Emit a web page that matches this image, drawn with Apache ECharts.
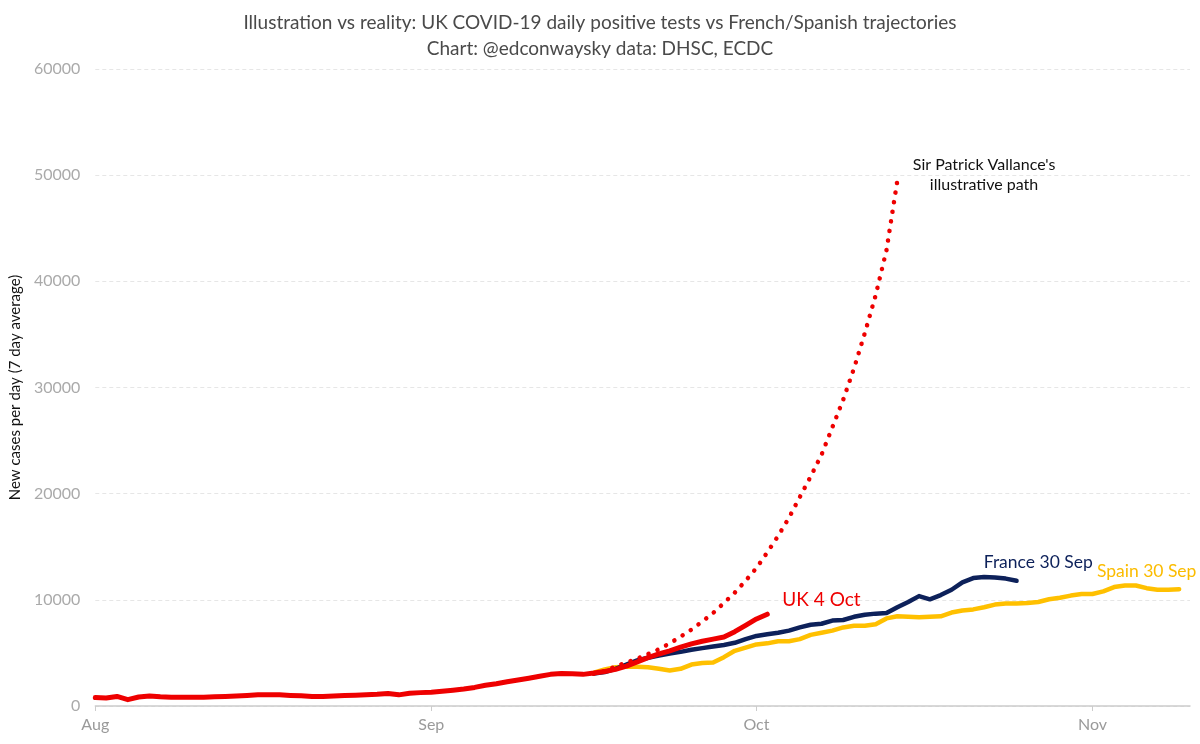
<!DOCTYPE html>
<html>
<head>
<meta charset="utf-8">
<script src="https://cdn.jsdelivr.net/npm/echarts@6/dist/echarts.min.js"></script>
<style>html,body{margin:0;padding:0;background:#fff}#c{width:1200px;height:744px}</style>
</head>
<body>
<div id="c"></div>
<script>
// ---- Data ----
var startDate = '2020-08-01';
var dayCount = 102; // 1 Aug .. 10 Nov
var yTicks = [0, 10000, 20000, 30000, 40000, 50000, 60000];
var monthLabels = {'08': 'Aug', '09': 'Sep', '10': 'Oct', '11': 'Nov'};

// UK 7-day average, from 1 Aug
var ukStart = 0;
var ukValues = [800, 750, 900, 600, 850, 950, 870, 820, 820, 820,
  830, 860, 900, 950, 1000, 1050, 1060, 1050, 1000, 960,
  900, 900, 950, 1000, 1020, 1060, 1100, 1180, 1050, 1200,
  1260, 1300, 1380, 1480, 1600, 1750, 1950, 2100, 2280, 2450,
  2620, 2800, 2980, 3070, 3040, 2980, 3100, 3250, 3450, 3750,
  4150, 4550, 4900, 5200, 5550, 5850, 6100, 6300, 6500, 7000,
  7600, 8200, 8650];

// France trajectory (aligned), from 16 Sep
var franceStart = 46;
var franceValues = [3050, 3200, 3500, 3900, 4300, 4550, 4750, 4950, 5100, 5300,
  5450, 5600, 5750, 5950, 6300, 6600, 6750, 6900, 7100, 7400,
  7650, 7750, 8050, 8100, 8400, 8600, 8700, 8750, 9300, 9800,
  10350, 10050, 10450, 10950, 11650, 12050, 12150, 12100, 12000, 11800];

// Spain trajectory (aligned), from 16 Sep
var spainStart = 46;
var spainValues = [3150, 3450, 3650, 3700, 3700, 3650, 3500, 3350, 3500, 3900,
  4050, 4100, 4600, 5200, 5500, 5800, 5900, 6100, 6100, 6300,
  6700, 6900, 7100, 7400, 7550, 7550, 7700, 8250, 8450, 8400,
  8350, 8400, 8450, 8800, 9000, 9100, 9300, 9550, 9650, 9650,
  9700, 9800, 10050, 10200, 10400, 10550, 10550, 10800, 11200, 11350,
  11350, 11100, 10950, 10950, 11000];

// Sir Patrick Vallance's illustrative path, from 16 Sep
var vallanceStart = 46;
var vallanceValues = [3050, 3300, 3730, 4080, 4450, 4900, 5340, 5900, 6530, 7200,
  7960, 8760, 9700, 10680, 11800, 13000, 14470, 16020, 17730, 19680,
  21610, 23660, 26240, 28840, 31800, 35130, 38700, 42950, 49500];

// Annotation anchors [day index, value]
var ukLabelAt = [67, 9950];
var franceLabelAt = [87, 13550];
var spainLabelAt = [97, 12700];
var vallanceLabelAt = [82, 50000];

// ---- Build ----
function pad(n){return (n<10?'0':'')+n;}
var dates = [];
(function(){
  var d = new Date(startDate + 'T00:00:00Z');
  for (var i = 0; i < dayCount; i++) {
    var t = new Date(d.getTime() + i*86400000);
    dates.push(t.getUTCFullYear() + '-' + pad(t.getUTCMonth()+1) + '-' + pad(t.getUTCDate()));
  }
})();
function place(start, vals){
  var arr = new Array(dayCount).fill(null);
  for (var i = 0; i < vals.length; i++) arr[start+i] = vals[i];
  return arr;
}
var isMonthStart = function(idx, val){ return val.slice(8) === '01'; };
var FONT = 'Lato, "Open Sans", sans-serif';

function note(at, text, color, size, extra){
  var lbl = Object.assign({show:true, position:'inside', formatter:text, color:color, fontSize:size, fontFamily:FONT}, extra||{});
  return {coord:[dates[at[0]], at[1]], symbol:'rect', symbolSize:1, itemStyle:{color:'rgba(0,0,0,0)'}, label:lbl};
}

var chart = echarts.init(document.getElementById('c'), null, {renderer:'canvas'});
chart.setOption({
  animation: false,
  backgroundColor: '#fff',
  title: {
    text: 'Illustration vs reality: UK COVID-19 daily positive tests vs French/Spanish trajectories\nChart: @edconwaysky data: DHSC, ECDC',
    left: 'center', top: 5,
    textStyle: {fontFamily: FONT, fontSize: 19, fontWeight: 'normal', color: '#4a4a4a', lineHeight: 26}
  },
  grid: {left: 93, right: 10, top: 69, bottom: 38, containLabel: false},
  xAxis: {
    type: 'category', data: dates, boundaryGap: false,
    axisLine: {lineStyle: {color: '#cccccc', width: 1.5}},
    axisTick: {show: true, interval: isMonthStart, length: 5, lineStyle: {color: '#cccccc'}},
    axisLabel: {interval: isMonthStart, formatter: function(v){return monthLabels[v.slice(5,7)];},
      color: '#9a9a9a', fontSize: 16, fontFamily: FONT, margin: 11},
    splitLine: {show: false}
  },
  yAxis: {
    type: 'value', min: yTicks[0], max: yTicks[yTicks.length-1], interval: yTicks[1]-yTicks[0],
    name: 'New cases per day (7 day average)', nameLocation: 'middle', nameGap: 72,
    nameTextStyle: {color: '#111', fontSize: 15, fontFamily: FONT},
    axisLine: {show: false}, axisTick: {show: false},
    axisLabel: {color: '#aaaaaa', fontSize: 16, fontFamily: FONT, margin: 15, formatter: function(v){return String(v);}},
    splitLine: {lineStyle: {color: '#e6e6e6', type: [4, 3], width: 1}}
  },
  series: [
    {name: 'Spain', type: 'line', data: place(spainStart, spainValues), showSymbol: false,
      lineStyle: {color: '#ffc000', width: 4.5, cap: 'round', join: 'round'}, z: 2,
      markPoint: {data: [note(spainLabelAt, 'Spain 30 Sep', '#fbbc00', 17.5)]}},
    {name: 'France', type: 'line', data: place(franceStart, franceValues), showSymbol: false,
      lineStyle: {color: '#0d215a', width: 4.5, cap: 'round', join: 'round'}, z: 3,
      markPoint: {data: [note(franceLabelAt, 'France 30 Sep', '#0d215a', 17.5)]}},
    {name: 'UK', type: 'line', data: place(ukStart, ukValues), showSymbol: false,
      lineStyle: {color: '#ee0000', width: 5, cap: 'round', join: 'round'}, z: 4,
      markPoint: {data: [note(ukLabelAt, 'UK 4 Oct', '#ee0000', 19)]}},
    {name: 'Vallance', type: 'line', data: place(vallanceStart, vallanceValues), showSymbol: false,
      lineStyle: {color: '#ee0000', width: 4.5, cap: 'round', type: [0.1, 9.6]}, z: 5,
      markPoint: {data: [note(vallanceLabelAt, "Sir Patrick Vallance's\nillustrative path", '#111', 16, {lineHeight: 20, align: 'center'})]}}
  ]
});
</script>
</body>
</html>
